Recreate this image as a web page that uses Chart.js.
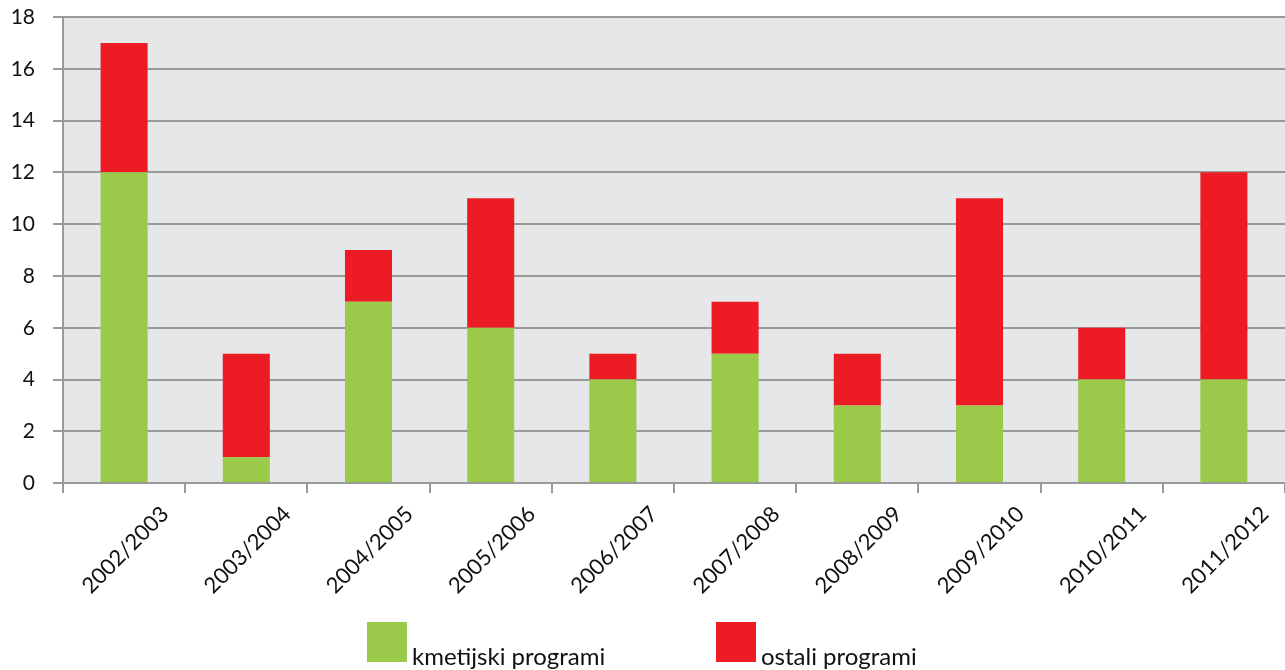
<!DOCTYPE html>
<html>
<head>
<meta charset="utf-8">
<script src="https://cdn.jsdelivr.net/npm/chart.js@4/dist/chart.umd.min.js"></script>
<style>
  body { margin: 0; background: #fff; }
  #wrap { position: relative; width: 1285px; height: 670px; overflow: hidden; }
  #legend { position: absolute; left: 367px; top: 622px; font-family: Lato, sans-serif; font-size: 24px; color: #111; }
  .item { position: absolute; top: 0; white-space: nowrap; }
  .box { position: absolute; left: 0; top: 0; width: 40px; height: 40px; }
  .lbl { position: absolute; left: 45px; top: 22px; line-height: 24px; }
</style>
</head>
<body>
<div id="wrap">
  <canvas id="chart" width="1285" height="670"></canvas>
  <div id="legend"></div>
</div>
<script>
const years = ['2002/2003', '2003/2004', '2004/2005', '2005/2006', '2006/2007',
  '2007/2008', '2008/2009', '2009/2010', '2010/2011', '2011/2012'];
const kmetijski = [12, 1, 7, 6, 4, 5, 3, 3, 4, 4];
const ostali = [5, 4, 2, 5, 1, 2, 2, 8, 2, 8];
const seriesNames = ['kmetijski programi', 'ostali programi'];
const colors = ['#9bc94a', '#ed1c24'];
const gridColor = '#9a9a9a';

const plotBg = {
  id: 'plotBg',
  beforeDraw(chart) {
    const { ctx, chartArea } = chart;
    ctx.save();
    ctx.fillStyle = '#e6e7e9';
    ctx.fillRect(chartArea.left, chartArea.top, chartArea.right - chartArea.left, chartArea.bottom - chartArea.top);
    ctx.restore();
  },
};

const chart = new Chart(document.getElementById('chart'), {
  type: 'bar',
  data: {
    labels: years,
    datasets: [
      { label: seriesNames[0], data: kmetijski, backgroundColor: colors[0] },
      { label: seriesNames[1], data: ostali, backgroundColor: colors[1] },
    ],
  },
  options: {
    responsive: false,
    animation: false,
    layout: { padding: { top: 17, right: 0, bottom: 63, left: 0 } },
    plugins: { legend: { display: false }, tooltip: { enabled: false } },
    datasets: { bar: { barPercentage: 0.385, categoryPercentage: 1 } },
    scales: {
      x: {
        stacked: true,
        afterFit(scale) { scale.paddingLeft = 0; scale.paddingRight = 0; },
        grid: { offset: true, drawOnChartArea: false, color: gridColor, lineWidth: 2, tickLength: 10 },
        border: { color: gridColor, width: 2 },
        ticks: {
          maxRotation: 45, minRotation: 45, labelOffset: 41, padding: 8,
          color: '#111', font: { family: 'Lato', size: 22 },
        },
      },
      y: {
        stacked: true,
        min: 0, max: 18,
        afterFit(scale) { scale.width = 63; scale.paddingTop = 0; scale.paddingBottom = 0; },
        grid: { color: gridColor, lineWidth: 2, tickLength: 10 },
        border: { color: gridColor, width: 2 },
        ticks: { stepSize: 2, padding: 18, color: '#111', font: { family: 'Lato', size: 21 } },
      },
    },
  },
  plugins: [plotBg],
});

const legend = document.getElementById('legend');
const legendX = [0, 349];
chart.data.datasets.forEach((ds, i) => {
  const item = document.createElement('div');
  item.className = 'item';
  item.style.left = legendX[i] + 'px';
  item.innerHTML = `<div class="box" style="background:${ds.backgroundColor}"></div><div class="lbl">${ds.label}</div>`;
  legend.appendChild(item);
});
</script>
</body>
</html>
